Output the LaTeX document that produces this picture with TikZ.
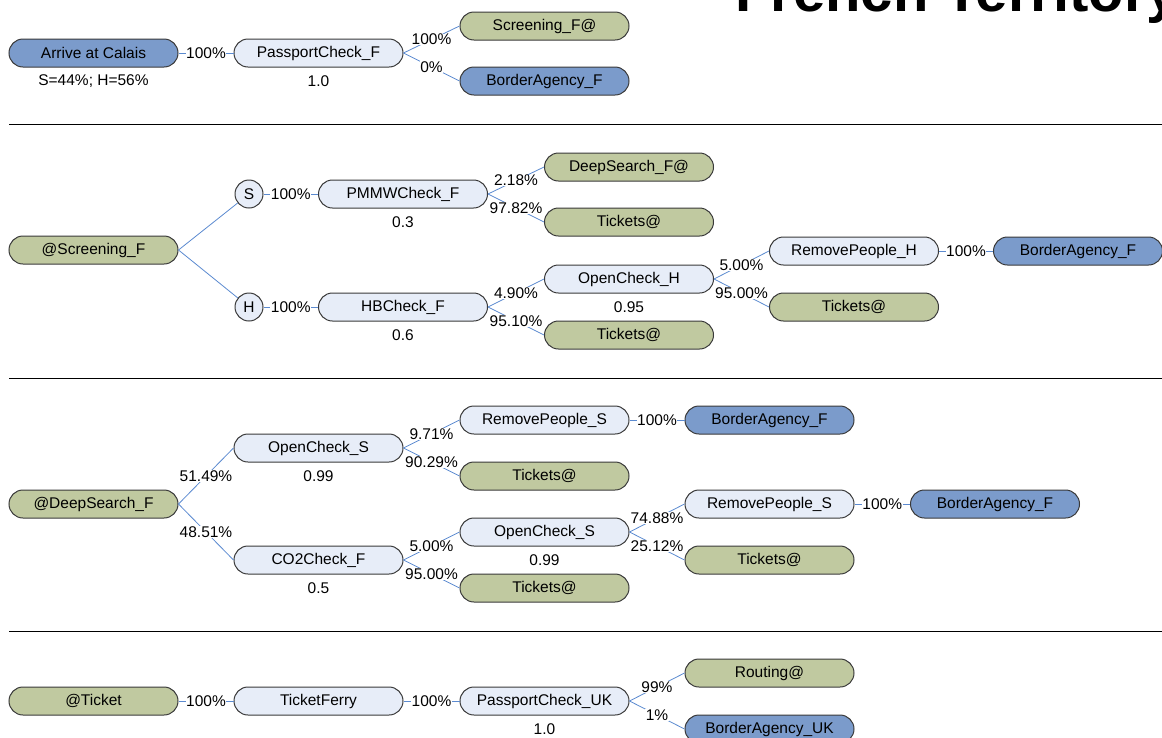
\documentclass[tikz,border=0pt]{standalone}
\usepackage{fontspec}
\setmainfont{Liberation Sans}
\usepackage{tikz}
\usetikzlibrary{shapes}
\definecolor{nodeblue}{HTML}{7B9BCB}
\definecolor{nodegreen}{HTML}{C0C9A0}
\definecolor{nodelight}{HTML}{E7EDF8}
\definecolor{boxline}{HTML}{3A3A3A}
\definecolor{linkblue}{HTML}{5B8AD0}
\tikzstyle{box} = [draw=boxline, line width=1pt, rounded corners=14pt, minimum width=169pt, minimum height=28pt, inner sep=0pt, font=\fontsize{15.5}{17}\selectfont]
\tikzstyle{blu} = [box, fill=nodeblue]
\tikzstyle{grn} = [box, fill=nodegreen]
\tikzstyle{lit} = [box, fill=nodelight]
\tikzstyle{split} = [circle, draw=boxline, line width=1pt, fill=nodelight, minimum size=28pt, inner sep=0pt, font=\fontsize{15.5}{17}\selectfont]
\tikzstyle{link} = [draw=linkblue, line width=0.8pt]
\tikzstyle{pct} = [fill=white, inner sep=0.5pt, font=\fontsize{15.5}{17}\selectfont]
\tikzstyle{note} = [inner sep=0pt, font=\fontsize{15.5}{17}\selectfont]
\tikzstyle{rule} = [draw=black, line width=0.9pt]

\begin{document}
\begin{tikzpicture}[x=1pt, y=-1pt]
	\clip (0,0) rectangle (1162,737);
	\node[anchor=base west, inner sep=0pt, font=\fontsize{58}{60}\selectfont\bfseries] (title) at (735,11) {French Territory};
	% -------------- Arrival --------------
	\node[blu] (arr)  at (93.5,53)  {Arrive at Calais};
	\node[note] (arrN) at (93.5,81) {S=44\%; H=56\%};
	\node[lit] (pcf)  at (318.5,53) {PassportCheck\_F};
	\node[note] (pcfN) at (318.5,81) {1.0};
	\node[grn] (scr)  at (544.5,26) {Screening\_F@};
	\node[blu] (baf)  at (544.5,81) {BorderAgency\_F};
	\draw[link] (arr) -- node[pct]{100\%} (pcf);
	\draw[link] (pcf.east) -- node[pct]{100\%} (scr.west);
	\draw[link] (pcf.east) -- node[pct]{0\%}   (baf.west);
	\draw[rule] (9,124) -- (1162,124);
	% -------------- Screening --------------
	\node[grn] (scrA) at (93.5,250)  {@Screening\_F};
	\node[split] (s)  at (249,194)   {S};
	\node[split] (h)  at (249,307)   {H};
	\node[lit] (pmmw) at (403,194)   {PMMWCheck\_F};
	\node[note] (pmmwN) at (403,222) {0.3};
	\node[grn] (dsf)  at (629,167)   {DeepSearch\_F@};
	\node[grn] (tkA)  at (629,222)   {Tickets@};
	\node[lit] (hbc)  at (403,307)   {HBCheck\_F};
	\node[note] (hbcN) at (403,335)  {0.6};
	\node[lit] (och)  at (629,279)   {OpenCheck\_H};
	\node[note] (ochN) at (629,307)  {0.95};
	\node[grn] (tkB)  at (629,335)   {Tickets@};
	\node[lit] (rph)  at (854,251)   {RemovePeople\_H};
	\node[grn] (tkC)  at (854,307)   {Tickets@};
	\node[blu] (bafB) at (1078,251)  {BorderAgency\_F};
	\draw[link] (scrA.east) -- (s);
	\draw[link] (scrA.east) -- (h);
	\draw[link] (s) -- node[pct]{100\%} (pmmw);
	\draw[link] (h) -- node[pct]{100\%} (hbc);
	\draw[link] (pmmw.east) -- node[pct]{2.18\%}  (dsf.west);
	\draw[link] (pmmw.east) -- node[pct]{97.82\%} (tkA.west);
	\draw[link] (hbc.east)  -- node[pct]{4.90\%}  (och.west);
	\draw[link] (hbc.east)  -- node[pct]{95.10\%} (tkB.west);
	\draw[link] (och.east)  -- node[pct]{5.00\%}  (rph.west);
	\draw[link] (och.east)  -- node[pct]{95.00\%} (tkC.west);
	\draw[link] (rph) -- node[pct]{100\%} (bafB);
	\draw[rule] (9,378) -- (1162,378);
	% -------------- Deep search --------------
	\node[grn] (dsA)  at (93.5,504)  {@DeepSearch\_F};
	\node[lit] (ocs)  at (318.5,448) {OpenCheck\_S};
	\node[note] (ocsN) at (318.5,476) {0.99};
	\node[lit] (co2)  at (318.5,560) {CO2Check\_F};
	\node[note] (co2N) at (318.5,588) {0.5};
	\node[lit] (rps)  at (544.5,420) {RemovePeople\_S};
	\node[grn] (tkD)  at (544.5,476) {Tickets@};
	\node[blu] (bafC) at (769.5,420) {BorderAgency\_F};
	\node[lit] (ocsB) at (544.5,532) {OpenCheck\_S};
	\node[note] (ocsBN) at (544.5,560) {0.99};
	\node[grn] (tkE)  at (544.5,588) {Tickets@};
	\node[lit] (rpsB) at (769.5,504) {RemovePeople\_S};
	\node[grn] (tkF)  at (769.5,560) {Tickets@};
	\node[blu] (bafD) at (995,504)   {BorderAgency\_F};
	\draw[link] (dsA.east) -- node[pct]{51.49\%} (ocs.west);
	\draw[link] (dsA.east) -- node[pct]{48.51\%} (co2.west);
	\draw[link] (ocs.east) -- node[pct]{9.71\%}  (rps.west);
	\draw[link] (ocs.east) -- node[pct]{90.29\%} (tkD.west);
	\draw[link] (rps) -- node[pct]{100\%} (bafC);
	\draw[link] (co2.east) -- node[pct]{5.00\%}  (ocsB.west);
	\draw[link] (co2.east) -- node[pct]{95.00\%} (tkE.west);
	\draw[link] (ocsB.east) -- node[pct]{74.88\%} (rpsB.west);
	\draw[link] (ocsB.east) -- node[pct]{25.12\%} (tkF.west);
	\draw[link] (rpsB) -- node[pct]{100\%} (bafD);
	\draw[rule] (9,631) -- (1162,631);
	% -------------- Ticket --------------
	\node[grn] (tkt)  at (93.5,701)  {@Ticket};
	\node[lit] (tfy)  at (318.5,701) {TicketFerry};
	\node[lit] (pcu)  at (544.5,701) {PassportCheck\_UK};
	\node[note] (pcuN) at (544.5,729) {1.0};
	\node[grn] (rtg)  at (769.5,673) {Routing@};
	\node[blu] (bau)  at (769.5,729) {BorderAgency\_UK};
	\draw[link] (tkt) -- node[pct]{100\%} (tfy);
	\draw[link] (tfy) -- node[pct]{100\%} (pcu);
	\draw[link] (pcu.east) -- node[pct]{99\%} (rtg.west);
	\draw[link] (pcu.east) -- node[pct]{1\%}  (bau.west);
\end{tikzpicture}
\end{document}
